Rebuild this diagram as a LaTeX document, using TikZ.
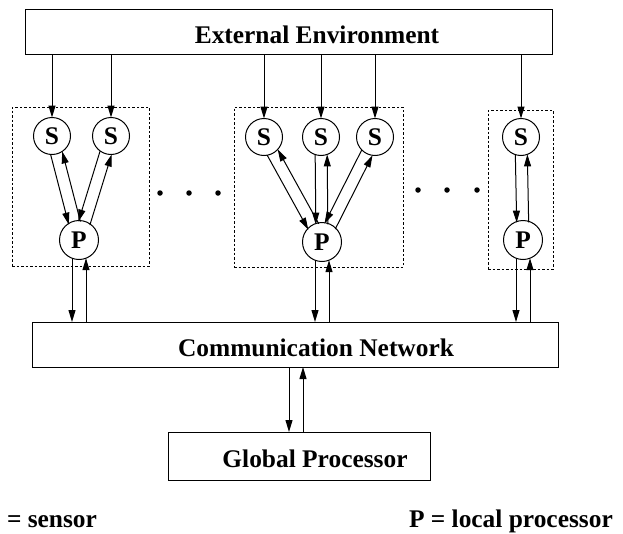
\documentclass[tikz,border=0pt]{standalone}
\usepackage{fontspec}
\setmainfont{Liberation Serif}
\usetikzlibrary{arrows.meta,calc}
\newcommand{\twoway}[2]{%
  \draw[arr,shorten <=17.5pt,shorten >=17.5pt] ($(#1)!6pt!-90:(#2)$) -- ($(#2)!6pt!90:(#1)$);
  \draw[arr,shorten <=17.5pt,shorten >=17.5pt] ($(#2)!6pt!-90:(#1)$) -- ($(#1)!6pt!90:(#2)$);}
\newcommand{\tonet}[1]{%
  \draw[arr,shorten <=18.2pt] ($(#1)+(-7,0)$) -- ($(#1|-Comm.north)+(-7,0)$);
  \draw[arr,shorten >=18.2pt] ($(#1|-Comm.north)+(7,0)$) -- ($(#1)+(7,0)$);}
\begin{document}
\begin{tikzpicture}[x=1pt,y=-1pt,
  every node/.style={font=\fontsize{25.4}{30}\selectfont\bfseries,inner sep=0pt,outer sep=0pt},
  box/.style={draw,line width=1pt},
  sens/.style={draw,circle,line width=1pt,minimum size=37pt},
  proc/.style={draw,circle,line width=1pt,minimum size=39pt},
  grp/.style={draw,line width=0.9pt,dash pattern=on 2.5pt off 2pt},
  arr/.style={line width=1pt,-{Triangle[length=12pt,width=7pt]}},
  dot/.style={fill,circle,minimum size=5.5pt}]
\useasboundingbox (0,0) rectangle (623,533);

% main boxes
\node[box,minimum width=527pt,minimum height=45pt] (Ext) at (288.5,31.5) {};
\node[anchor=base] (ExtT) at (317,43) {External Environment};
\node[box,minimum width=526pt,minimum height=45pt] (Comm) at (295,344.5) {};
\node[anchor=base] (CommT) at (316,356.5) {Communication Network};
\node[box,minimum width=262pt,minimum height=48pt] (Glob) at (299,456) {};
\node[anchor=base] (GlobT) at (315,467) {Global Processor};

% dotted groups
\node[grp,minimum width=137pt,minimum height=159pt] (G1) at (80.5,186.5) {};
\node[grp,minimum width=169pt,minimum height=160pt] (G2) at (318.5,187) {};
\node[grp,minimum width=65pt,minimum height=159pt] (G3) at (520.5,189.5) {};

% sensors and processors
\node[sens] (S1) at (52,136) {S};
\node[sens] (S2) at (111,136) {S};
\node[sens] (S3) at (264,137) {S};
\node[sens] (S4) at (321,137) {S};
\node[sens] (S5) at (375,137) {S};
\node[sens] (S6) at (521,137) {S};
\node[proc] (P1) at (79,240) {P};
\node[proc] (P2) at (322,242) {P};
\node[proc] (P3) at (523,240) {P};

% ellipsis dots
\node[dot] (d1) at (160,193) {};
\node[dot] (d2) at (189,193) {};
\node[dot] (d3) at (218,193) {};
\node[dot] (d4) at (418,190) {};
\node[dot] (d5) at (447,190) {};
\node[dot] (d6) at (477,190) {};

% environment to sensors
\foreach \s in {S1,S2,S3,S4,S5,S6}
  \draw[arr] (\s|-Ext.south) -- (\s.north);

% sensors <-> processors
\twoway{S1}{P1}
\twoway{S2}{P1}
\twoway{S3}{P2}
\twoway{S4}{P2}
\twoway{S5}{P2}
\twoway{S6}{P3}

% processors <-> network
\tonet{P1}
\tonet{P2}
\tonet{P3}

% network <-> global processor
\coordinate (gx) at (296,0);
\draw[arr] ($(gx|-Comm.south)+(-7,0)$) -- ($(gx|-Glob.north)+(-7,0)$);
\draw[arr] ($(gx|-Glob.north)+(7,0)$) -- ($(gx|-Comm.south)+(7,0)$);

% legend
\node[anchor=base west] (L1) at (7,527.5) {= sensor};
\node[anchor=base west] (L2) at (409,527.5) {P = local processor};
\end{tikzpicture}
\end{document}
